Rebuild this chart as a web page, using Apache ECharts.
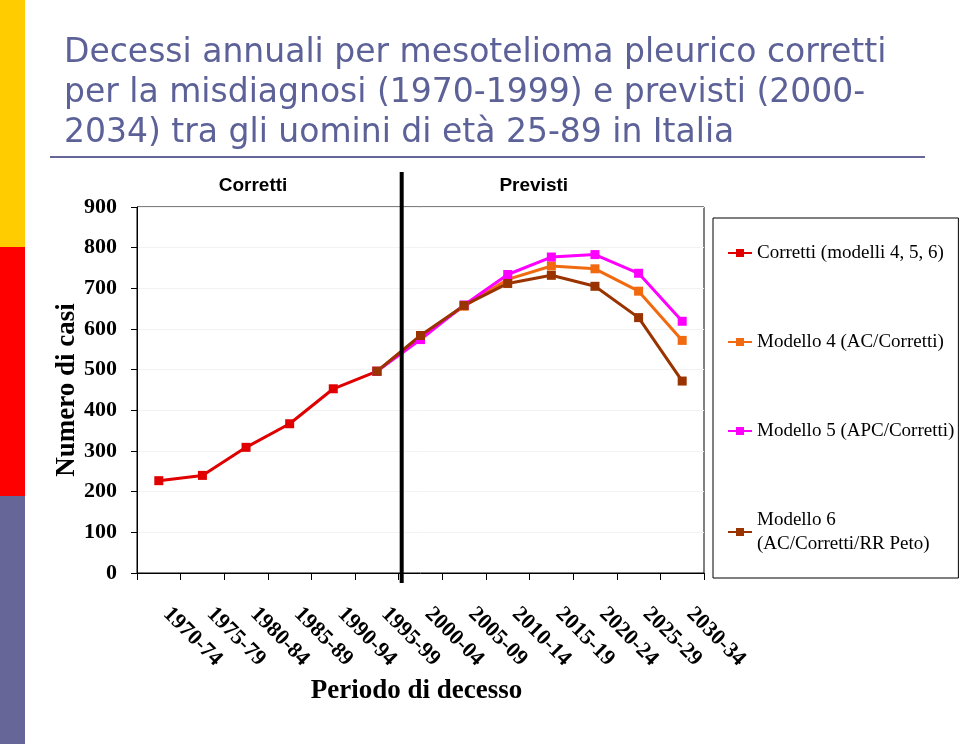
<!DOCTYPE html>
<html><head><meta charset="utf-8">
<script src="https://cdn.jsdelivr.net/npm/echarts@6/dist/echarts.min.js"></script>
<style>html,body{margin:0;padding:0;background:#fff}#c{width:960px;height:744px}</style>
</head><body><div id="c"></div>
<script>
const categories = ['1970-74','1975-79','1980-84','1985-89','1990-94','1995-99','2000-04','2005-09','2010-14','2015-19','2020-24','2025-29','2030-34'];
const corretti  = [227, 240, 309, 367, 453, 496, null, null, null, null, null, null, null];
const modello4  = [null, null, null, null, null, 496, 583, 656, 722, 755, 748, 693, 572];
const modello5  = [null, null, null, null, null, 496, 574, 659, 734, 777, 783, 737, 619];
const modello6  = [null, null, null, null, null, 496, 584, 658, 712, 732, 705, 628, 472];
const yTicks = [0, 900, 100];
const seriesNames = ['Corretti (modelli 4, 5, 6)', 'Modello 4 (AC/Corretti)', 'Modello 5 (APC/Corretti)', 'Modello 6\n(AC/Corretti/RR Peto)'];
const colors = ['#E00000', '#F26A10', '#FF00FF', '#993300'];

const chart = echarts.init(document.getElementById('c'), null, {renderer: 'canvas'});
const serif = '"Liberation Serif", "Times New Roman", serif';
const sans = '"Liberation Sans", Arial, sans-serif';
const titleFont = '"DejaVu Sans", Verdana, sans-serif';
function mk(name, data, color) {
  return {
    name: name, type: 'line', data: data, color: color,
    symbol: 'rect', symbolSize: 9, connectNulls: false,
    lineStyle: {width: 3, color: color},
    itemStyle: {color: color},
    emphasis: {disabled: true}
  };
}
const option = {
  animation: false,
  backgroundColor: '#fff',
  title: {
    text: 'Decessi annuali per mesotelioma pleurico corretti\nper la misdiagnosi (1970-1999) e previsti (2000-\n2034) tra gli uomini di età 25-89 in Italia',
    left: 59, top: 28,
    textStyle: {fontFamily: titleFont, fontSize: 33, fontWeight: 'normal', color: '#5c6198', lineHeight: 40}
  },
  grid: {left: 137, right: 256, top: 207, bottom: 171, show: true, borderColor: '#000', borderWidth: 1, backgroundColor: 'transparent'},
  legend: {
    orient: 'vertical', left: 713, top: 218,
    padding: [23, 4, 22, 14],
    itemGap: 65, itemWidth: 24, itemHeight: 10,
    backgroundColor: '#fff', borderColor: '#000', borderWidth: 1,
    textStyle: {fontFamily: serif, fontSize: 19, color: '#000', lineHeight: 24},
    data: seriesNames
  },
  xAxis: {
    type: 'category', data: categories, boundaryGap: true,
    name: 'Periodo di decesso', nameLocation: 'middle', nameGap: 105, nameMoveOverlap: false,
    nameTextStyle: {fontFamily: serif, fontSize: 27, fontWeight: 'bold', color: '#000', padding: [0, 8, 0, 0]},
    axisLine: {lineStyle: {color: '#000', width: 1}},
    axisTick: {show: true, length: 7, lineStyle: {color: '#000'}},
    axisLabel: {rotate: -45, margin: 30, padding: [0, 0, 0, 11], fontFamily: serif, fontSize: 22, fontWeight: 'bold', color: '#000', interval: 0},
    splitLine: {show: false}
  },
  yAxis: {
    type: 'value', min: yTicks[0], max: yTicks[1], interval: yTicks[2],
    name: 'Numero di casi', nameLocation: 'middle', nameGap: 56, nameRotate: 90, nameMoveOverlap: false,
    nameTextStyle: {fontFamily: serif, fontSize: 27, fontWeight: 'bold', color: '#000'},
    axisLine: {show: true, lineStyle: {color: '#000', width: 1}},
    axisTick: {show: true, length: 6, lineStyle: {color: '#000'}},
    axisLabel: {margin: 20, fontFamily: serif, fontSize: 22, fontWeight: 'bold', color: '#000'},
    splitLine: {show: true, lineStyle: {color: '#f2f2f2', width: 1}}
  },
  series: [
    mk(seriesNames[0], corretti, colors[0]),
    mk(seriesNames[1], modello4, colors[1]),
    mk(seriesNames[2], modello5, colors[2]),
    mk(seriesNames[3], modello6, colors[3])
  ]
};
chart.setOption(option);

const x5 = chart.convertToPixel({xAxisIndex: 0}, categories[5]);
const x6 = chart.convertToPixel({xAxisIndex: 0}, categories[6]);
const xDiv = (x5 + x6) / 2 + 3;
const xC = chart.convertToPixel({xAxisIndex: 0}, categories[2]) + 7;
const xP = chart.convertToPixel({xAxisIndex: 0}, categories[8]) + 26;
chart.setOption({
  graphic: [
    {type: 'rect', shape: {x: 0, y: 0, width: 25, height: 247}, style: {fill: '#FFCC00'}, silent: true},
    {type: 'rect', shape: {x: 0, y: 247, width: 25, height: 249}, style: {fill: '#FF0000'}, silent: true},
    {type: 'rect', shape: {x: 0, y: 496, width: 25, height: 248}, style: {fill: '#666699'}, silent: true},
    {type: 'line', shape: {x1: 50, y1: 157, x2: 925, y2: 157}, style: {stroke: '#666699', lineWidth: 2}, silent: true},
    {type: 'line', z: 100, shape: {x1: xDiv, y1: 172, x2: xDiv, y2: 583}, style: {stroke: '#000', lineWidth: 4}, silent: true},
    {type: 'text', x: xC, y: 186, style: {text: 'Corretti', font: 'bold 19px ' + sans, fill: '#000', textAlign: 'center', textVerticalAlign: 'middle'}, silent: true},
    {type: 'text', x: xP, y: 186, style: {text: 'Previsti', font: 'bold 19px ' + sans, fill: '#000', textAlign: 'center', textVerticalAlign: 'middle'}, silent: true}
  ]
});
</script></body></html>
